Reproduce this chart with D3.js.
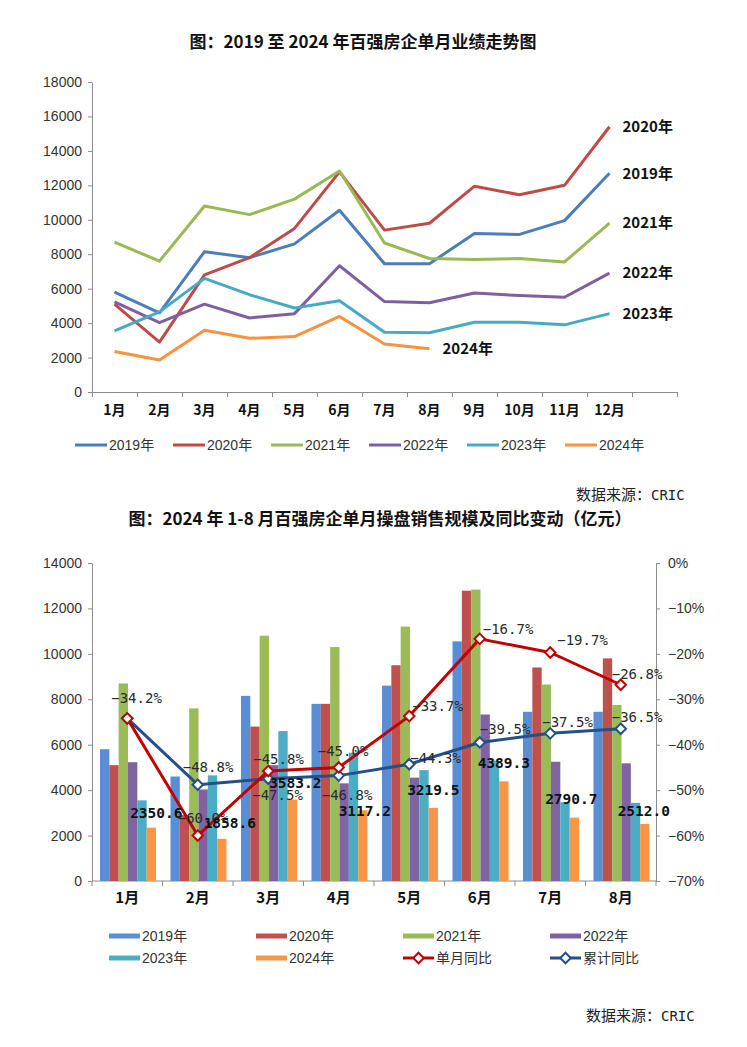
<!DOCTYPE html>
<html><head><meta charset="utf-8">
<script src="https://cdn.jsdelivr.net/npm/d3@7/dist/d3.min.js"></script>
<style>body{margin:0;background:#fff;} svg{display:block;}</style>
</head><body>
<svg id="c" width="747" height="1047"></svg>
<script>
// ---------------- data ----------------
const months12 = ["1月","2月","3月","4月","5月","6月","7月","8月","9月","10月","11月","12月"];
const months8 = months12.slice(0, 8);
const years = ["2019年","2020年","2021年","2022年","2023年","2024年"];
const v2019 = [5800, 4600, 8150, 7800, 8600, 10550, 7450, 7450, 9200, 9150, 9950, 12700];
const v2020 = [5100, 2900, 6800, 7800, 9500, 12780, 9400, 9800, 11950, 11450, 12000, 15400];
const v2021 = [8700, 7600, 10800, 10300, 11200, 12830, 8650, 7750, 7700, 7750, 7550, 9800];
const v2022 = [5230, 4030, 5100, 4300, 4550, 7330, 5250, 5180, 5750, 5600, 5500, 6900];
const v2023 = [3550, 4650, 6600, 5650, 4880, 5300, 3470, 3440, 4050, 4050, 3900, 4550];
const v2024 = [2350.6, 1858.6, 3583.2, 3117.2, 3219.5, 4389.3, 2790.7, 2512.0];
const monthYoY = [-34.2, -60.0, -45.8, -45.0, -33.7, -16.7, -19.7, -26.8];   // 单月同比 %
const cumYoY   = [-34.2, -48.8, -47.5, -46.8, -44.3, -39.5, -37.5, -36.5];   // 累计同比 %
const topTicks = [0, 2000, 4000, 6000, 8000, 10000, 12000, 14000, 16000, 18000];
const leftTicks = [0, 2000, 4000, 6000, 8000, 10000, 12000, 14000];
const rightTicks = [0, -10, -20, -30, -40, -50, -60, -70];
const seriesAll = [v2019, v2020, v2021, v2022, v2023, v2024];

// ---------------- styles / layout ----------------
const lineColors = ["#4a7ebb", "#be4b48", "#98b954", "#7d60a0", "#46aac5", "#f69240"];
const barColors  = ["#5a8ed4", "#c0504d", "#9bbb59", "#8064a2", "#4bacc6", "#f79646"];
const redC = "#c00000", navyC = "#254f85", axisC = "#8c8c8c";
const SANS = "'Liberation Sans','Noto Sans CJK SC',sans-serif";
const CJK = "'Noto Sans CJK SC',sans-serif";
const MONO = "'DejaVu Sans Mono','Noto Sans CJK SC',monospace";
// label nudges (layout only)
const redLabelOff  = [[-16,-15],[-20,-13],[-15,-7],[-21,-11],[3,-5],[3,-5],[7,-7],[-9,-6]];
const navyLabelOff = [[-16,-15],[-15,-13],[-16,21],[-17,24],[1,-1],[0,-8],[-8,-6],[-9,-7]];
const valLabelOff  = [[5,-10],[8,-11],[3,-12],[2,6],[0,-13],[0,-13],[-3,-14],[-1,-8]];

const svg = d3.select("#c");

// ================= TOP CHART =================
svg.append("text").attr("x", 363).attr("y", 48).attr("text-anchor", "middle")
  .attr("font-family", CJK).attr("font-weight", "bold").attr("font-size", 17).attr("fill", "#111")
  .text("图：2019 至 2024 年百强房企单月业绩走势图");

const xT = d3.scaleLinear().domain([0, 13]).range([92, 677]);
const yT = d3.scaleLinear().domain([0, 18000]).range([392, 82]);

const gTy = svg.append("g").attr("transform", "translate(92,0)")
  .call(d3.axisLeft(yT).tickValues(topTicks).tickSize(4).tickSizeOuter(0).tickPadding(6).tickFormat(d3.format("d")));
const gTx = svg.append("g").attr("transform", "translate(0,392)")
  .call(d3.axisBottom(xT).tickValues(d3.range(0, 14)).tickSize(5).tickSizeOuter(0).tickFormat(""));
[gTy, gTx].forEach(g => {
  g.selectAll("path,line").attr("stroke", axisC);
  g.selectAll("text").attr("font-family", SANS).attr("font-size", 14).attr("fill", "#333");
});
svg.append("g").selectAll("text").data(months12).join("text")
  .attr("x", (d, i) => xT(i + 0.5)).attr("y", 415).attr("text-anchor", "middle")
  .attr("font-family", CJK).attr("font-weight", "bold").attr("font-size", 14).attr("fill", "#111")
  .text(d => d);

const lineT = d3.line().x((d, i) => xT(i + 0.5)).y(d => yT(d));
seriesAll.forEach((s, k) => {
  svg.append("path").datum(s).attr("d", lineT).attr("fill", "none")
    .attr("stroke", lineColors[k]).attr("stroke-width", 3).attr("stroke-linejoin", "round");
  const li = s.length - 1;
  svg.append("text").attr("x", xT(li + 0.5) + 13).attr("y", yT(s[li])).attr("dy", "0.35em")
    .attr("font-family", CJK).attr("font-weight", "bold").attr("font-size", 15).attr("fill", "#111")
    .text(years[k]);
});

// top legend
const legT = svg.append("g");
years.forEach((y, k) => {
  const x0 = 75 + k * 98;
  legT.append("line").attr("x1", x0).attr("x2", x0 + 32).attr("y1", 445).attr("y2", 445)
    .attr("stroke", lineColors[k]).attr("stroke-width", 3);
  legT.append("text").attr("x", x0 + 34).attr("y", 445).attr("dy", "0.36em")
    .attr("font-family", SANS).attr("font-size", 14).attr("fill", "#333").text(y);
});

function source(x, y) {
  const t = svg.append("text").attr("x", x).attr("y", y).attr("fill", "#222");
  t.append("tspan").attr("font-family", CJK).attr("font-size", 15).text("数据来源：");
  t.append("tspan").attr("font-family", MONO).attr("font-size", 14).text("CRIC");
}
source(576, 500);

// ================= BOTTOM CHART =================
svg.append("text").attr("x", 380).attr("y", 525).attr("text-anchor", "middle")
  .attr("font-family", CJK).attr("font-weight", "bold").attr("font-size", 17).attr("fill", "#111")
  .text("图：2024 年 1-8 月百强房企单月操盘销售规模及同比变动（亿元）");

const xB = d3.scaleBand().domain(months8).range([92, 656]);
const xI = d3.scaleBand().domain(d3.range(6)).range([8, 64]);
const yL = d3.scaleLinear().domain([0, 14000]).range([881, 563]);
const yR = d3.scaleLinear().domain([-70, 0]).range([881, 563]);

const gL = svg.append("g").attr("transform", "translate(92,0)")
  .call(d3.axisLeft(yL).tickValues(leftTicks).tickSize(4).tickSizeOuter(0).tickPadding(6).tickFormat(d3.format("d")));
const gR = svg.append("g").attr("transform", "translate(656,0)")
  .call(d3.axisRight(yR).tickValues(rightTicks).tickSize(4).tickSizeOuter(0).tickPadding(8)
    .tickFormat(d => (d < 0 ? "−" : "") + Math.abs(d) + "%"));
const xTicksB = months8.map(m => xB(m)).concat([656]);
const gB = svg.append("g").attr("transform", "translate(0,881)");
gB.append("line").attr("x1", 92).attr("x2", 656).attr("stroke", axisC);
gB.selectAll("line.t").data(xTicksB).join("line").attr("class", "t")
  .attr("x1", d => d).attr("x2", d => d).attr("y1", 0).attr("y2", 5).attr("stroke", axisC);
[gL, gR].forEach(g => {
  g.selectAll("path,line").attr("stroke", axisC);
  g.selectAll("text").attr("font-family", SANS).attr("font-size", 14).attr("fill", "#333");
});
svg.append("g").selectAll("text").data(months8).join("text")
  .attr("x", d => xB(d) + xB.bandwidth() / 2).attr("y", 903).attr("text-anchor", "middle")
  .attr("font-family", CJK).attr("font-weight", "bold").attr("font-size", 15).attr("fill", "#111")
  .text(d => d);

// bars
const gBars = svg.append("g");
seriesAll.forEach((s, k) => {
  gBars.append("g").selectAll("rect").data(s.slice(0, 8)).join("rect")
    .attr("x", (d, i) => xB(months8[i]) + xI(k)).attr("width", xI.bandwidth())
    .attr("y", d => yL(d)).attr("height", d => 881 - yL(d)).attr("fill", barColors[k]);
});

// lines
const cx = i => xB(months8[i]) + xB.bandwidth() / 2;
const lineB = d3.line().x((d, i) => cx(i)).y(d => yR(d));
const diamond = d3.symbol().type(d3.symbolDiamond2).size(70);
[[cumYoY, navyC], [monthYoY, redC]].forEach(([s, c]) => {
  svg.append("path").datum(s).attr("d", lineB).attr("fill", "none")
    .attr("stroke", c).attr("stroke-width", 3).attr("stroke-linejoin", "round");
  svg.append("g").selectAll("path").data(s).join("path")
    .attr("d", diamond).attr("transform", (d, i) => `translate(${cx(i)},${yR(d)})`)
    .attr("fill", "#fff").attr("stroke", c).attr("stroke-width", 2);
});

// labels (the cumulative label is skipped where it coincides with the monthly one)
function pctLabels(s, offs, skip) {
  const items = s.map((v, i) => ({ v, i })).filter(o => !skip || !skip(o));
  svg.append("g").selectAll("text").data(items).join("text")
    .attr("x", o => cx(o.i) + offs[o.i][0]).attr("y", o => yR(o.v) + offs[o.i][1])
    .attr("font-family", MONO).attr("font-size", 14).attr("fill", "#2a2a2a")
    .text(o => "−" + Math.abs(o.v).toFixed(1) + "%");
}
pctLabels(cumYoY, navyLabelOff, o => o.v === monthYoY[o.i]);
pctLabels(monthYoY, redLabelOff);
svg.append("g").selectAll("text").data(v2024).join("text")
  .attr("x", (d, i) => xB(months8[i]) + xI(5) + xI.bandwidth() / 2 + valLabelOff[i][0])
  .attr("y", (d, i) => yL(d) + valLabelOff[i][1]).attr("text-anchor", "middle")
  .attr("font-family", MONO).attr("font-weight", "bold").attr("font-size", 14.5).attr("fill", "#111")
  .text(d => d.toFixed(1));

// bottom legend
const legItems = years.map((y, k) => ({ name: y, type: "bar", color: barColors[k] }))
  .concat([{ name: "单月同比", type: "line", color: redC }, { name: "累计同比", type: "line", color: navyC }]);
const legB = svg.append("g");
legItems.forEach((it, k) => {
  const col = k % 4, row = Math.floor(k / 4);
  const x0 = 109 + col * 147, yc = 936 + row * 22;
  if (it.type === "bar") {
    legB.append("rect").attr("x", x0).attr("y", yc - 2.5).attr("width", 31).attr("height", 5).attr("fill", it.color);
  } else {
    legB.append("line").attr("x1", x0).attr("x2", x0 + 31).attr("y1", yc).attr("y2", yc)
      .attr("stroke", it.color).attr("stroke-width", 3);
    legB.append("path").attr("d", diamond).attr("transform", `translate(${x0 + 15.5},${yc})`)
      .attr("fill", "#fff").attr("stroke", it.color).attr("stroke-width", 2);
  }
  legB.append("text").attr("x", x0 + 33).attr("y", yc).attr("dy", "0.36em")
    .attr("font-family", SANS).attr("font-size", 14).attr("fill", "#333").text(it.name);
});

source(586, 1021);
</script>
</body></html>
